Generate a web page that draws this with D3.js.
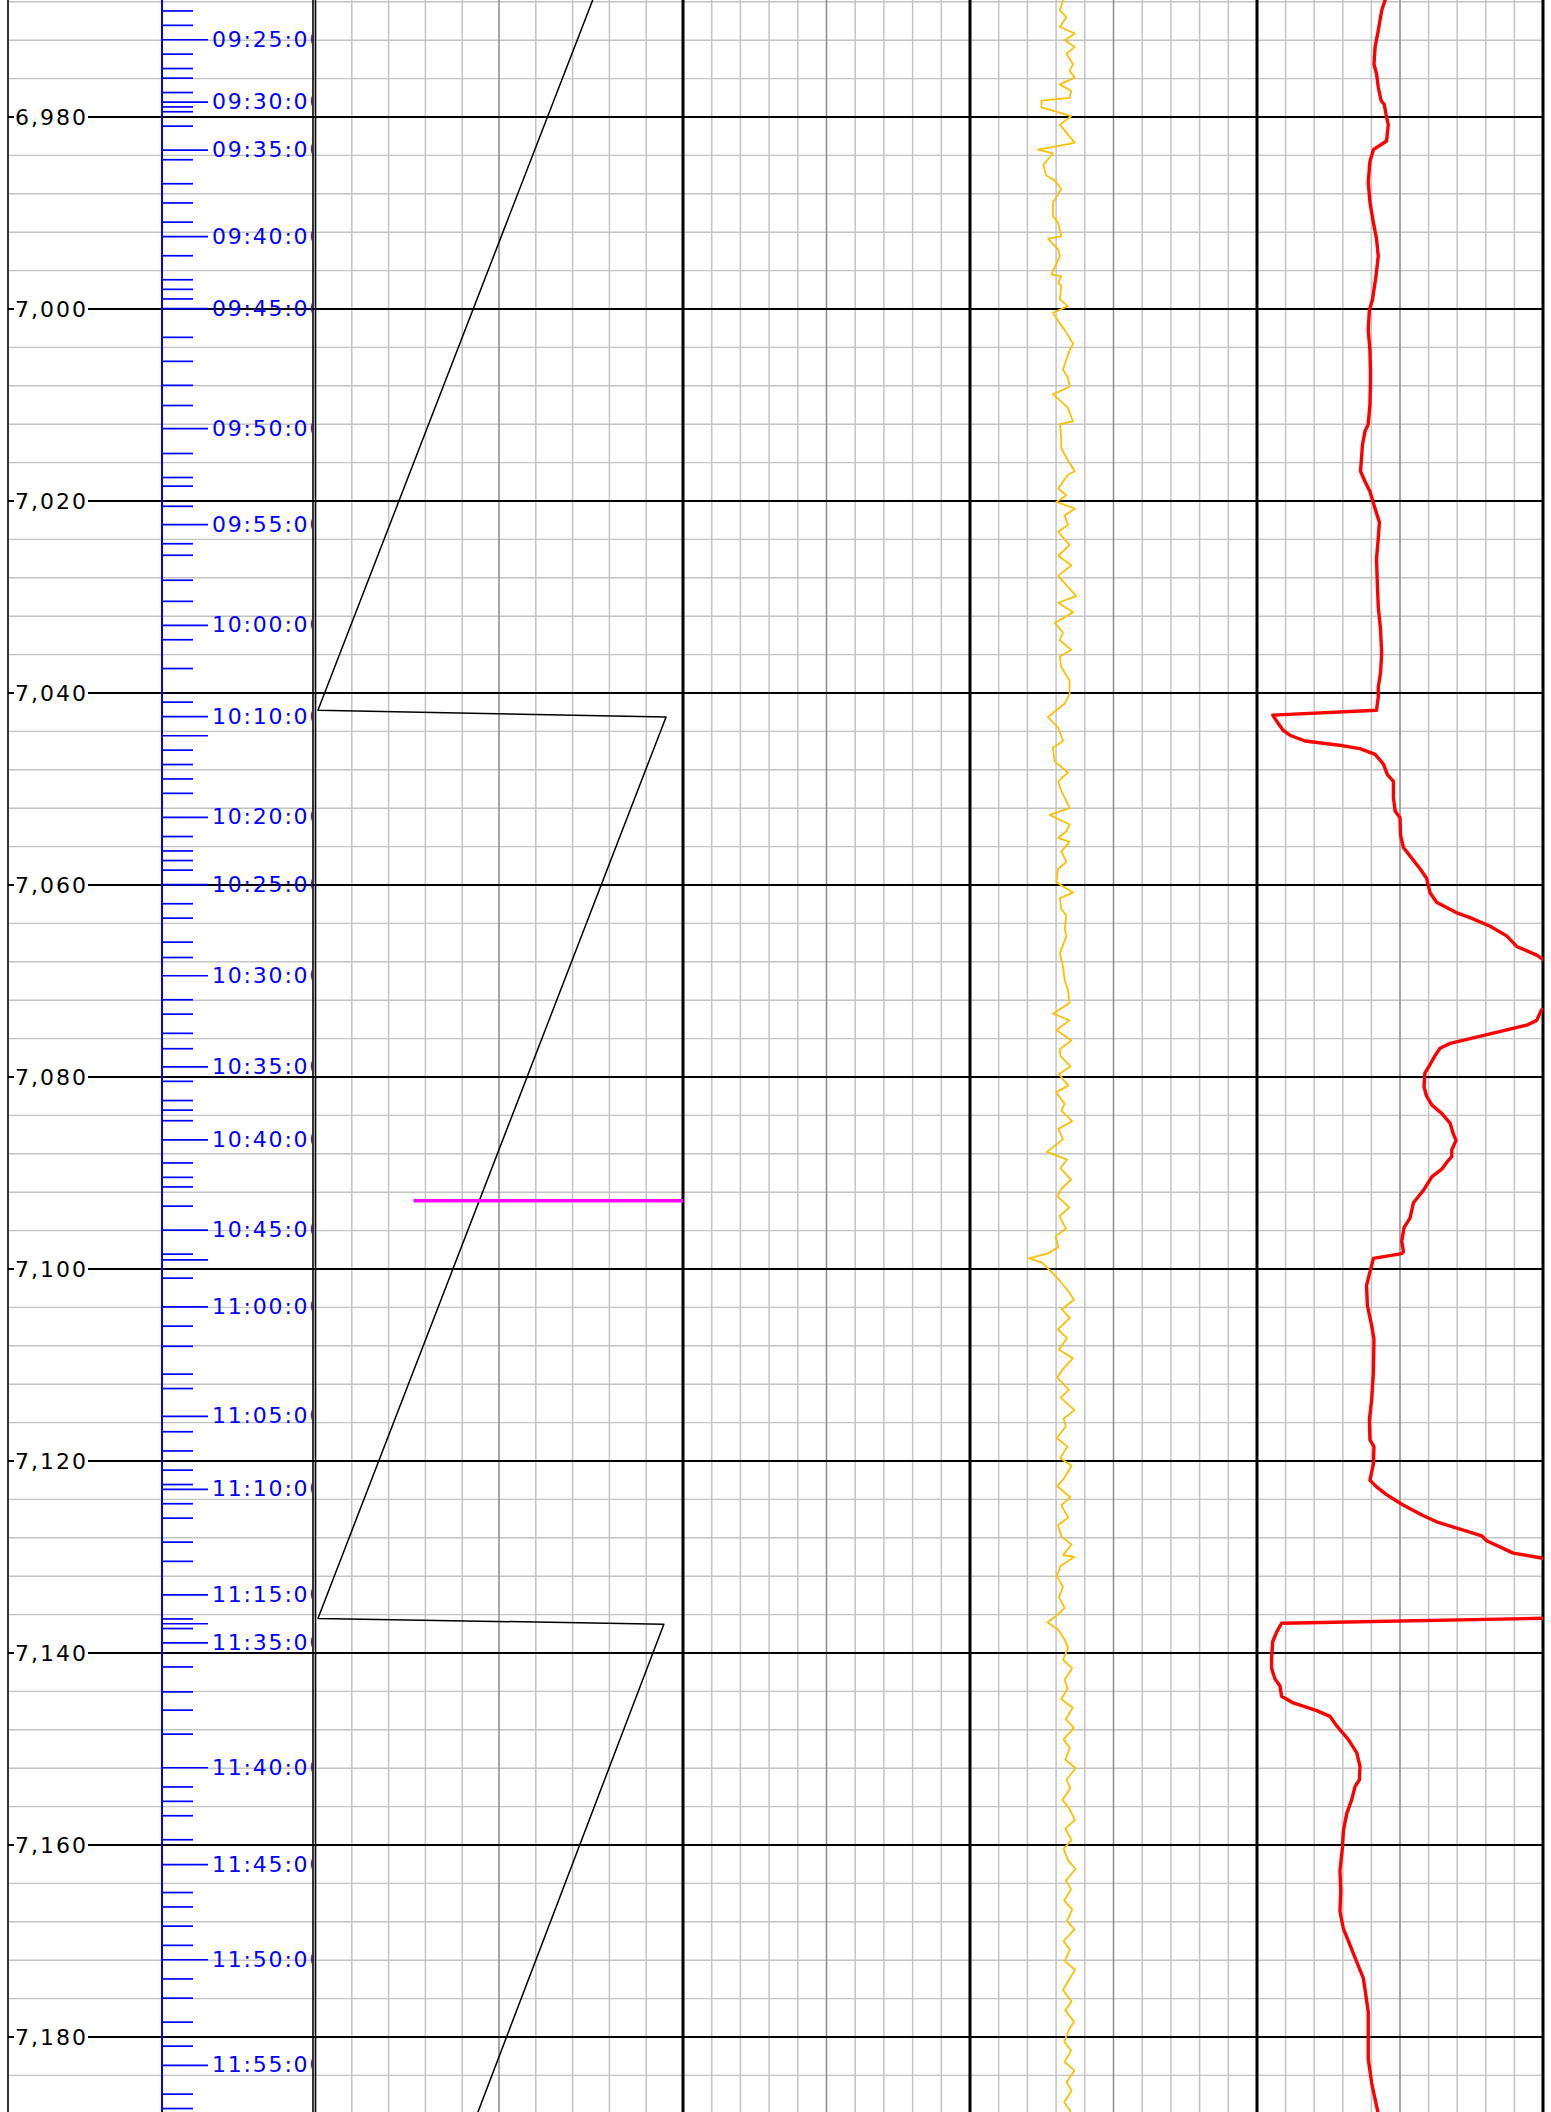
<!DOCTYPE html>
<html>
<head>
<meta charset="utf-8">
<script src="https://cdn.jsdelivr.net/npm/d3@7"></script>
<style>
  html, body { margin: 0; padding: 0; background: #fff; }
  svg { display: block; }
</style>
</head>
<body>
<script>
// ---- Depth scale labels (ft) ----
const depthLabels = [6980, 7000, 7020, 7040, 7060, 7080, 7100, 7120, 7140, 7160, 7180];

// ---- Time-vs-depth markers (blue scale) ----
const timeMajorDepths = [6971.9, 6978.4, 6983.4, 6992.4, 6999.9, 7012.4, 7022.4, 7032.9, 7042.4, 7044.4,
  7052.9, 7059.9, 7069.4, 7078.9, 7086.5, 7095.9, 7099.0, 7103.9, 7115.3, 7122.9, 7133.9, 7136.9,
  7138.9, 7151.9, 7162.0, 7171.9, 7182.9];
const timeMajorLabels = ["09:25:00", "09:30:00", "09:35:00", "09:40:00", "09:45:00", "09:50:00", "09:55:00",
  "10:00:00", "10:10:00", "10:15:00", "10:20:00", "10:25:00", "10:30:00", "10:35:00", "10:40:00",
  "10:45:00", "10:55:00", "11:00:00", "11:05:00", "11:10:00", "11:15:00", "11:30:00", "11:35:00",
  "11:40:00", "11:45:00", "11:50:00", "11:55:00"];
const timeMinorDepths = [6968.9, 6970.4, 6973.4, 6974.9, 6975.9, 6977.4, 6978.9, 6979.4, 6980.9, 6984.4,
  6986.9, 6988.9, 6990.9, 6994.4, 6996.9, 6997.9, 6998.9, 7002.9, 7005.4, 7007.9, 7010.0, 7015.0,
  7017.5, 7018.4, 7020.5, 7024.4, 7025.6, 7028.2, 7030.4, 7034.4, 7037.4, 7040.9, 7045.9, 7047.4,
  7048.9, 7050.4, 7054.9, 7056.4, 7057.4, 7058.4, 7061.9, 7063.4, 7065.9, 7067.5, 7071.9, 7073.4,
  7075.4, 7077.0, 7080.4, 7082.4, 7083.4, 7084.5, 7088.9, 7090.4, 7091.4, 7093.4, 7098.4, 7100.9,
  7105.9, 7108.0, 7110.9, 7112.4, 7116.9, 7118.9, 7120.9, 7122.4, 7124.4, 7125.9, 7128.4, 7130.4,
  7136.4, 7137.4, 7141.4, 7144.0, 7145.9, 7148.4, 7153.9, 7155.4, 7156.9, 7159.4, 7164.9, 7166.4,
  7168.4, 7170.4, 7173.9, 7175.9, 7178.4, 7180.9, 7185.9, 7187.4];

// ---- Track 1: wrapped depth-of-bit trace (0-100) ----
const bitTrace = [[6966.0, 77.3], [7041.8, 0.8], [7042.5, 95.4], [7136.4, 0.8], [7137.0, 94.8], [7188.5, 43.6]];

// ---- Track 1: marker line ----
const markerDepth = [7092.9];
const markerFrom = [26.8];
const markerTo = [100];

// ---- Track 3: yellow trace (0-100) ----
const yellowTrace = [
  [6967.0, 32.0], [6967.8, 32.4], [6968.9, 31.3], [6969.6, 33.6], [6970.6, 31.3], [6971.3, 36.5], [6972.0, 33.0],
  [6972.7, 36.5], [6973.4, 33.6], [6974.5, 35.9], [6975.2, 34.7], [6975.9, 36.5], [6976.6, 31.3],
  [6977.3, 35.3], [6978.0, 34.7], [6978.3, 24.9], [6979.0, 24.9], [6979.9, 35.3], [6980.8, 31.3],
  [6982.7, 36.5], [6983.4, 23.7], [6983.8, 28.9], [6985.0, 25.5], [6986.1, 26.6], [6986.6, 29.5],
  [6987.5, 31.8], [6988.9, 28.9], [6990.3, 28.9], [6991.0, 30.7], [6992.4, 31.8], [6992.7, 27.2],
  [6993.8, 30.7], [6994.5, 31.3], [6996.4, 28.4], [6996.6, 31.8], [6997.3, 30.7], [6997.6, 31.8],
  [6999.0, 31.3], [6999.7, 34.1], [7000.4, 28.9], [7001.5, 31.3], [7002.2, 33.0], [7003.6, 35.9],
  [7004.3, 34.7], [7006.3, 32.4], [7007.1, 34.1], [7008.1, 34.7], [7008.9, 28.9], [7009.8, 32.4],
  [7010.3, 34.1], [7011.7, 35.9], [7012.0, 31.3], [7013.4, 31.8], [7014.5, 31.8], [7015.5, 33.6],
  [7016.9, 36.5], [7017.3, 34.1], [7018.7, 30.7], [7019.4, 33.6], [7020.1, 30.1], [7020.8, 36.5],
  [7021.5, 33.0], [7022.5, 34.1], [7023.2, 30.7], [7024.6, 34.7], [7025.7, 30.7], [7026.7, 35.3],
  [7027.8, 30.7], [7029.9, 37.0], [7030.6, 30.7], [7031.6, 35.9], [7032.7, 29.5], [7033.7, 32.4],
  [7034.5, 31.3], [7035.5, 35.3], [7036.2, 31.3], [7037.3, 31.8], [7038.7, 34.7], [7040.1, 34.7],
  [7041.1, 33.0], [7042.5, 27.2], [7043.6, 30.7], [7045.0, 32.4], [7045.7, 28.9], [7047.1, 29.5],
  [7048.3, 34.1], [7049.2, 30.7], [7050.2, 31.8], [7050.9, 33.0], [7052.0, 34.7], [7052.7, 27.8],
  [7053.7, 34.7], [7054.4, 33.6], [7055.1, 30.7], [7055.5, 34.7], [7056.5, 31.8], [7057.6, 33.6],
  [7058.3, 30.7], [7059.7, 30.1], [7060.8, 35.9], [7061.4, 31.3], [7062.5, 31.8], [7063.2, 33.6],
  [7064.6, 33.0], [7065.3, 33.6], [7067.1, 31.3], [7068.5, 32.4], [7069.9, 33.0], [7070.9, 34.1],
  [7072.3, 34.7], [7073.4, 28.9], [7074.1, 34.7], [7075.1, 30.1], [7076.2, 35.3], [7077.1, 31.3],
  [7077.8, 31.5], [7078.9, 35.0], [7079.7, 31.0], [7080.9, 34.2], [7081.6, 30.0], [7082.8, 33.0],
  [7083.5, 31.8], [7084.6, 35.6], [7085.4, 30.8], [7086.5, 32.4], [7087.8, 26.8], [7088.6, 33.8],
  [7089.5, 31.5], [7090.7, 35.2], [7091.6, 32.0], [7092.4, 30.4], [7093.6, 34.6], [7094.5, 31.2],
  [7095.8, 33.4], [7096.6, 29.8], [7097.7, 30.8], [7098.4, 27.0], [7098.9, 20.5], [7099.3, 25.0],
  [7100.2, 28.0], [7101.3, 31.5], [7102.4, 34.5], [7103.2, 36.2], [7104.2, 32.0], [7105.1, 34.8],
  [7106.3, 30.6], [7107.2, 33.8], [7108.4, 31.0], [7109.3, 35.8], [7110.5, 32.2], [7111.3, 30.4],
  [7112.6, 34.4], [7113.4, 31.6], [7114.7, 36.4], [7115.6, 32.6], [7116.4, 33.4], [7117.6, 30.2],
  [7118.5, 34.0], [7119.7, 31.4], [7120.5, 35.4], [7121.8, 32.8], [7122.6, 30.4], [7123.8, 35.0],
  [7124.6, 31.8], [7125.9, 34.2], [7126.7, 30.6], [7127.9, 32.0], [7128.7, 35.4], [7129.8, 32.4],
  [7130.0, 36.3], [7130.9, 31.6], [7132.0, 30.2], [7133.1, 32.4], [7134.2, 31.0], [7135.3, 33.0],
  [7136.2, 29.8], [7136.8, 27.0], [7137.6, 30.8], [7138.6, 33.0], [7139.5, 34.2], [7140.7, 32.4],
  [7141.6, 35.6], [7142.8, 33.0], [7143.7, 34.0], [7144.8, 31.8], [7145.7, 35.8], [7146.9, 33.4],
  [7147.8, 36.2], [7149.0, 32.6], [7149.9, 34.8], [7151.1, 33.2], [7152.0, 36.8], [7153.2, 33.6],
  [7154.1, 35.0], [7155.3, 32.2], [7156.2, 34.6], [7157.4, 36.6], [7158.3, 33.2], [7159.5, 35.4],
  [7160.4, 32.6], [7161.6, 34.2], [7162.5, 36.8], [7163.7, 33.4], [7164.6, 35.2], [7165.8, 32.8],
  [7166.7, 35.6], [7167.9, 33.8], [7168.8, 36.4], [7170.0, 32.6], [7170.9, 34.8], [7172.1, 33.0],
  [7173.0, 36.6], [7174.2, 34.2], [7175.1, 32.4], [7176.3, 35.4], [7177.2, 33.2], [7178.4, 36.2],
  [7179.3, 34.4], [7180.5, 32.8], [7181.4, 35.2], [7182.6, 33.0], [7183.5, 36.4], [7184.7, 33.6],
  [7185.6, 35.4], [7186.8, 32.8], [7187.7, 35.0], [7188.6, 33.6]
];

// ---- Track 4: red trace (0-100, values above 100 run off scale) ----
const redTrace = [
  [6966.5, 45.5], [6967.8, 44.8], [6968.9, 43.6], [6971.0, 42.4], [6972.7, 41.3], [6974.5, 40.9],
  [6975.5, 41.8], [6976.9, 42.4], [6978.3, 43.4], [6978.7, 44.5], [6979.7, 45.1], [6980.8, 45.9],
  [6982.5, 45.3], [6983.4, 40.7], [6984.6, 39.5], [6986.8, 38.9], [6988.9, 39.5], [6991.0, 40.7],
  [6992.7, 41.8], [6994.5, 42.4], [6996.6, 41.6], [6998.0, 40.9], [6999.0, 40.4], [7000.1, 39.3],
  [7002.2, 38.9], [7004.3, 39.5], [7007.1, 39.7], [7009.9, 39.5], [7012.0, 38.9], [7012.7, 37.8],
  [7014.1, 36.9], [7016.9, 36.2], [7018.0, 37.8], [7019.0, 39.5], [7020.8, 41.3], [7022.2, 42.8],
  [7023.9, 42.4], [7026.0, 41.8], [7028.8, 42.1], [7031.0, 42.4], [7033.4, 43.2], [7035.9, 43.6],
  [7037.9, 43.2], [7039.4, 42.4], [7040.4, 42.4], [7041.8, 41.8], [7042.3, 5.5], [7043.2, 7.5],
  [7043.9, 9.2], [7044.4, 11.5], [7045.0, 16.8], [7045.5, 30.2], [7045.8, 36.0], [7046.4, 41.3],
  [7047.4, 44.2], [7048.5, 45.6], [7049.2, 47.7], [7050.9, 47.7], [7052.3, 48.3], [7053.0, 50.0],
  [7054.8, 50.2], [7056.1, 51.2], [7057.2, 54.1], [7058.3, 57.0], [7059.3, 59.3], [7060.8, 60.5],
  [7061.8, 62.8], [7062.9, 69.8], [7063.4, 74.5], [7064.3, 81.5], [7065.3, 87.3], [7066.4, 90.8],
  [7067.3, 97.8], [7067.8, 100.3], [7069.0, 106.0], [7071.5, 110.0], [7072.7, 103.0], [7073.0, 99.5],
  [7074.1, 97.8], [7074.6, 94.3], [7075.5, 81.5], [7076.5, 67.5], [7077.0, 64.0], [7077.8, 62.2],
  [7078.7, 60.5], [7079.6, 58.7], [7081.0, 58.4], [7082.0, 59.3], [7082.9, 61.1], [7083.8, 64.6],
  [7084.8, 67.5], [7085.9, 68.6], [7086.6, 69.6], [7087.6, 68.1], [7088.3, 68.1], [7088.9, 66.3],
  [7089.6, 64.6], [7090.4, 61.1], [7091.8, 58.2], [7093.1, 54.7], [7094.7, 53.5], [7095.7, 51.4],
  [7097.1, 50.6], [7098.2, 51.2], [7098.4, 50.6], [7098.9, 40.7], [7100.3, 39.5], [7101.7, 38.3],
  [7103.8, 38.6], [7105.9, 40.1], [7107.3, 40.9], [7110.8, 40.7], [7113.6, 40.1], [7115.7, 39.3],
  [7117.8, 39.5], [7118.5, 40.9], [7120.3, 40.7], [7122.0, 39.5], [7122.7, 41.8], [7123.5, 45.3],
  [7124.5, 50.6], [7125.7, 58.2], [7126.4, 63.4], [7127.1, 71.0], [7127.8, 78.6], [7128.3, 80.3],
  [7129.6, 89.6], [7130.1, 99.5], [7131.5, 108.0], [7134.5, 112.0], [7136.3, 115.0], [7136.9, 8.6],
  [7137.8, 6.9], [7138.8, 5.5], [7140.6, 5.1], [7141.6, 5.1], [7142.7, 6.3], [7143.4, 8.0],
  [7144.5, 8.6], [7145.2, 12.7], [7146.0, 20.9], [7146.6, 25.5], [7147.6, 27.9], [7149.0, 31.9],
  [7150.4, 34.9], [7151.8, 36.0], [7153.2, 35.8], [7153.9, 34.3], [7155.3, 33.1], [7156.7, 31.4],
  [7158.5, 30.2], [7160.2, 29.9], [7162.7, 29.0], [7164.8, 29.3], [7166.9, 29.0], [7168.7, 30.2],
  [7170.4, 32.5], [7172.2, 34.9], [7173.9, 37.2], [7175.7, 38.1], [7177.4, 38.9], [7179.5, 38.9],
  [7182.3, 38.9], [7184.8, 40.1], [7187.2, 41.8], [7188.5, 42.8]
];

// ---------------------------------------------------------------
const W = 1551, H = 2112;
const FONT = "'DejaVu Sans', Verdana, sans-serif";

const svg = d3.select("body").append("svg")
  .attr("width", W).attr("height", H)
  .style("background", "#fff");

// depth -> vertical pixel (9.6 px per ft)
const y = d3.scaleLinear()
  .domain([6967.8125, 7187.8125])
  .range([0, H]);

const frameLeft = 8, frameRight = 1543, depthColRight = 313;
const timeAxisX = 162;
const tracks = [[315, 683], [683, 970], [970, 1257], [1257, 1543]];
const xs = tracks.map(t => d3.scaleLinear().domain([0, 100]).range(t));

const [dMin, dMax] = y.domain();
const minorGrid = d3.range(Math.ceil(dMin / 4) * 4, dMax, 4).filter(d => d % 20 !== 0);

const grid = svg.append("g");

// light horizontal grid every 4 ft
grid.selectAll("line.hminor").data(minorGrid).join("line")
  .attr("x1", frameLeft).attr("x2", frameRight)
  .attr("y1", d => y(d)).attr("y2", d => y(d))
  .attr("stroke", "#c3c3c3").attr("stroke-width", 1.4);

// vertical track divisions
xs.forEach(sc => {
  const divs = d3.range(1, 10);
  grid.selectAll(null).data(divs).join("line")
    .attr("x1", d => sc(d * 10)).attr("x2", d => sc(d * 10))
    .attr("y1", 0).attr("y2", H)
    .attr("stroke", d => d === 5 ? "#8a8a8a" : "#c3c3c3")
    .attr("stroke-width", 1.5);
});

// heavy horizontal grid every 20 ft
grid.selectAll("line.hmajor").data(depthLabels).join("line")
  .attr("x1", frameLeft).attr("x2", frameRight)
  .attr("y1", d => y(d)).attr("y2", d => y(d))
  .attr("stroke", "#000").attr("stroke-width", 1.8);

// track borders
const borders = [frameLeft, depthColRight, 315.5, 683, 970, 1257, frameRight];
const borderW = [1.6, 1.6, 1.6, 3, 3, 3, 3];
grid.selectAll("line.border").data(borders).join("line")
  .attr("x1", d => d).attr("x2", d => d)
  .attr("y1", 0).attr("y2", H)
  .attr("stroke", "#000")
  .attr("stroke-width", (d, i) => borderW[i]);

// depth labels on white boxes
const fmt = d3.format(",");
const depthG = svg.append("g");
depthLabels.forEach(d => {
  const g = depthG.append("g");
  const rect = g.append("rect").attr("fill", "#fff");
  const t = g.append("text")
    .attr("x", 15).attr("y", y(d)).attr("dy", "0.36em")
    .style("font-family", FONT).style("font-size", "22px")
    .style("letter-spacing", "2px")
    .attr("fill", "#000")
    .text(fmt(d));
  const bb = t.node().getBBox();
  rect.attr("x", 14).attr("y", bb.y + 2)
    .attr("width", bb.x + bb.width - 14)
    .attr("height", bb.height - 4);
});

// blue time scale, clipped at the depth column edge
svg.append("clipPath").attr("id", "clip-time")
  .append("rect").attr("x", 0).attr("y", 0).attr("width", depthColRight - 1).attr("height", H);

const timeOuter = svg.append("g").attr("clip-path", "url(#clip-time)");
const timeG = timeOuter.append("g").attr("transform", `translate(${timeAxisX},0)`);

const minorAxis = d3.axisRight(y).tickValues(timeMinorDepths).tickSize(31).tickSizeOuter(0).tickFormat("");
const majorAxis = d3.axisRight(y).tickValues(timeMajorDepths).tickSize(46).tickSizeOuter(0).tickPadding(4)
  .tickFormat((d, i) => timeMajorLabels[i]);

const gMinor = timeG.append("g").call(minorAxis);
const gMajor = timeG.append("g").call(majorAxis);
[gMinor, gMajor].forEach(g => {
  g.select(".domain").remove();
  g.selectAll(".tick line").attr("stroke", "#0000ff").attr("stroke-width", 1.7);
});
gMajor.selectAll(".tick text")
  .attr("fill", "#0000ff")
  .style("font-family", FONT).style("font-size", "22px").style("letter-spacing", "1.8px");

// hide labels crowding the previous one
let lastY = -Infinity;
gMajor.selectAll(".tick").each(function (d) {
  const py = y(d);
  const txt = d3.select(this).select("text");
  if (py - lastY < 40) txt.style("display", "none");
  else lastY = py;
});

timeG.append("line")
  .attr("x1", 0).attr("x2", 0).attr("y1", 0).attr("y2", H)
  .attr("stroke", "#0000ff").attr("stroke-width", 2);

// curves, clipped to their tracks
tracks.forEach((t, i) => {
  svg.append("clipPath").attr("id", "clip-track-" + i)
    .append("rect").attr("x", t[0]).attr("y", 0).attr("width", t[1] - t[0]).attr("height", H);
});

function drawTrace(data, trackIdx, color, width) {
  const line = d3.line()
    .x(d => xs[trackIdx](d[1]))
    .y(d => y(d[0]));
  svg.append("path")
    .attr("clip-path", `url(#clip-track-${trackIdx})`)
    .datum(data)
    .attr("d", line)
    .attr("fill", "none")
    .attr("stroke", color)
    .attr("stroke-width", width)
    .attr("stroke-linejoin", "round")
    .attr("stroke-linecap", "round");
}

drawTrace(bitTrace, 0, "#000", 1.5);
drawTrace(yellowTrace, 2, "#ffc000", 1.8);
drawTrace(redTrace, 3, "#ff0000", 3.4);

// marker line in track 1
svg.append("g").attr("clip-path", "url(#clip-track-0)")
  .selectAll("line").data(markerDepth).join("line")
  .attr("x1", (d, i) => xs[0](markerFrom[i]))
  .attr("x2", (d, i) => xs[0](markerTo[i]))
  .attr("y1", d => y(d)).attr("y2", d => y(d))
  .attr("stroke", "#ff00ff").attr("stroke-width", 3.5);
</script>
</body>
</html>
